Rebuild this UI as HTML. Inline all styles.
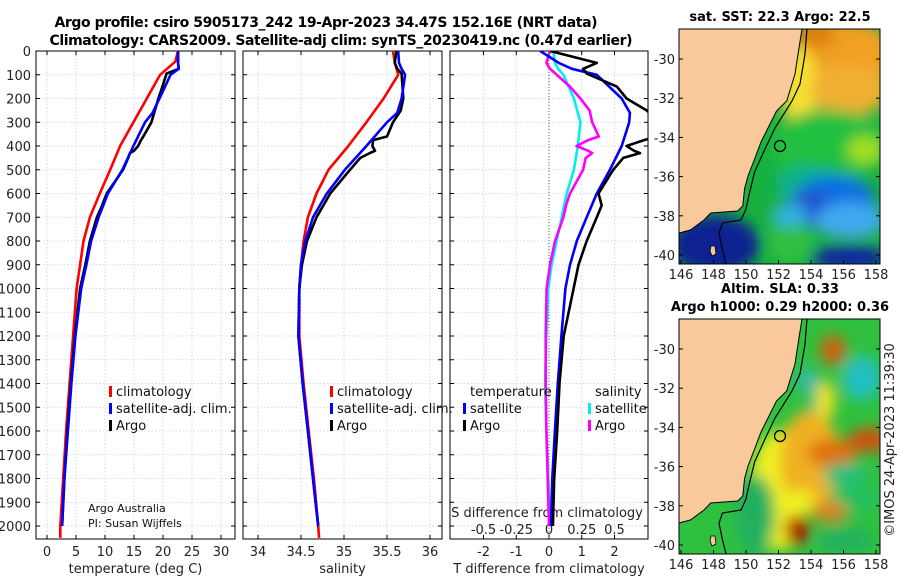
<!DOCTYPE html>
<html><head><meta charset="utf-8"><style>
html,body{margin:0;padding:0;background:#fff;}
svg{display:block;font-family:"DejaVu Sans","Liberation Sans",sans-serif;}
</style></head><body>
<svg id="fig" width="900" height="580" viewBox="0 0 900 580">
<defs>
<clipPath id="c1"><rect x="36" y="51" width="199" height="488"/></clipPath>
<clipPath id="c2"><rect x="243" y="51" width="199" height="488"/></clipPath>
<clipPath id="c3"><rect x="450" y="51" width="198" height="488"/></clipPath>
<clipPath id="m1"><rect x="679" y="29" width="201" height="235"/></clipPath>
<clipPath id="m2"><rect x="679" y="319" width="201" height="235"/></clipPath>
<filter id="bl" x="-50%" y="-50%" width="200%" height="200%"><feGaussianBlur stdDeviation="7"/></filter>
</defs>
<text x="326" y="27" text-anchor="middle" font-weight="bold" font-size="14" textLength="543">Argo profile: csiro 5905173_242 19-Apr-2023 34.47S 152.16E (NRT data)</text>
<text x="341" y="45" text-anchor="middle" font-weight="bold" font-size="14" textLength="583">Climatology: CARS2009. Satellite-adj clim: synTS_20230419.nc (0.47d earlier)</text>
<g id="plots"></g>
<g id="maps"></g>
</svg>
<script>
// ---------- data ----------
const depthTicks = [0,100,200,300,400,500,600,700,800,900,1000,1100,1200,1300,1400,1500,1600,1700,1800,1900,2000];
const tempTicks = [0,5,10,15,20,25,30];
const salTicks = [34,34.5,35,35.5,36];
const salTickLabels = ["34","34.5","35","35.5","36"];
const tdiffTicks = [-2,-1,0,1,2];
const sdiffTicks = [-0.5,-0.25,0,0.25,0.5];
const sdiffTickLabels = ["-0.5","-0.25","0","0.25","0.5"];

const argoDepth = [0,50,75,95,150,200,250,300,360,375,400,420,430,450,500,600,650,700,800,900,1000,1200,1400,1600,1800,2000];
const argoTemp  = [22.6,22.6,22.7,20.6,19.9,19.2,18.6,18.0,16.6,16.2,15.7,15.0,14.3,14.0,13.1,10.3,9.5,8.6,7.4,6.6,5.7,4.8,4.1,3.5,3.0,2.6];
const argoSal   = [35.61,35.59,35.62,35.67,35.68,35.69,35.66,35.57,35.50,35.34,35.33,35.36,35.30,35.19,35.07,34.84,34.76,34.68,34.57,34.51,34.48,34.47,34.52,34.58,34.64,34.70];
const argoTdiff = [0.03,1.46,1.04,1.15,2.07,2.37,2.98,3.4,3.3,2.9,2.37,2.6,2.78,2.27,1.96,1.51,1.61,1.46,1.15,0.9,0.75,0.45,0.32,0.25,0.16,0.12];
const argoSdiff = [0.008,-0.02,0.008,0.05,0.16,0.24,0.31,0.33,0.38,0.30,0.21,0.30,0.33,0.28,0.26,0.16,0.13,0.11,0.046,0.008,-0.018,-0.025,-0.025,-0.02,-0.01,0.0];

const satDepth = [0,50,75,100,200,260,300,400,500,600,700,800,900,1000,1200,1400,1600,1800,2000];
const satTemp  = [22.6,22.6,22.7,21.3,19.4,18.2,16.9,14.9,13.0,10.5,8.9,7.6,6.8,5.9,4.9,4.2,3.6,3.0,2.6];
const satSal   = [35.63,35.64,35.67,35.71,35.67,35.62,35.50,35.26,35.01,34.80,34.64,34.55,34.50,34.48,34.47,34.52,34.58,34.64,34.70];
const satTdiff = [-0.27,0.3,0.7,1.46,2.22,2.47,2.45,2.22,1.86,1.46,1.15,0.85,0.64,0.5,0.38,0.27,0.18,0.1,0.06];
const satSdiff = [0.033,0.046,0.07,0.11,0.19,0.22,0.24,0.22,0.19,0.135,0.097,0.059,0.02,-0.005,-0.02,-0.03,-0.02,-0.005,0.01];

const climDepth = [0,45,100,200,300,400,500,600,700,800,900,1000,1200,1400,1600,1800,2000,2050];
const climTemp  = [22.6,22.1,19.5,17.2,14.9,12.6,10.9,9.1,7.4,6.3,5.7,5.1,4.5,3.9,3.3,2.8,2.3,2.3];
const climSal   = [35.57,35.59,35.63,35.46,35.26,35.05,34.82,34.68,34.58,34.53,34.50,34.48,34.48,34.53,34.59,34.65,34.70,34.71];

// ---------- helpers ----------
const NS = "http://www.w3.org/2000/svg";
const plots = document.getElementById('plots');
function mk(tag, attrs, parent){ const e=document.createElementNS(NS,tag); for(const k in attrs) e.setAttribute(k,attrs[k]); (parent||plots).appendChild(e); return e; }
const Y0=51, YS=0.2375;
function yD(d){ return Y0 + d*YS; }
function xT(t){ return 47 + t*5.8; }
function xS(s){ return 258 + (s-34)*86; }
function xTd(v){ return 549 + v*32.75; }
function xSd(v){ return 549 + v*131; }

const panels = [
  {x:36, name:'temperature-panel', ticks:tempTicks, labels:tempTicks.map(String), fx:xT, clip:'c1', label:'temperature (deg C)'},
  {x:243, name:'salinity-panel', ticks:salTicks, labels:salTickLabels, fx:xS, clip:'c2', label:'salinity'},
  {x:450, name:'difference-panel', ticks:tdiffTicks, labels:tdiffTicks.map(String), fx:xTd, clip:'c3', label:'T difference from climatology'}
];
const PT=51, PB=539;
panels.forEach((p,i)=>{
  const g = mk('g',{});
  
  
  const w = (i==2)?198:199;
  p.ticks.forEach(t=>{ const gl=mk('line',{x1:p.fx(t),x2:p.fx(t),y1:PT,y2:PB,stroke:'#c9cdea','stroke-width':0.8,'stroke-dasharray':'1.5,2'},g);
      });
  depthTicks.forEach(d=>{ const gl=mk('line',{x1:p.x,x2:p.x+w,y1:yD(d),y2:yD(d),stroke:'#c9cdea','stroke-width':0.8,'stroke-dasharray':'1.5,2'},g);
      });
  p.ticks.forEach((t,k)=>{
    mk('line',{x1:p.fx(t),x2:p.fx(t),y1:PT,y2:PT+4,stroke:'#000'},g);
    mk('line',{x1:p.fx(t),x2:p.fx(t),y1:PB,y2:PB-4,stroke:'#000'},g);
    const tx=mk('text',{x:p.fx(t),y:556,'text-anchor':'middle','font-size':13,fill:'#222'},g);
    tx.textContent=p.labels[k];
     
  });
  depthTicks.forEach(d=>{
    mk('line',{x1:p.x,x2:p.x+4,y1:yD(d),y2:yD(d),stroke:'#000'},g);
    mk('line',{x1:p.x+w,x2:p.x+w-4,y1:yD(d),y2:yD(d),stroke:'#000'},g);
  });
  const xl=mk('text',{x:p.x+w/2,y:573,'text-anchor':'middle','font-size':13,fill:'#222'},g);
  xl.textContent=p.label;
   
  const fr=mk('rect',{x:p.x,y:PT,width:w,height:PB-PT,fill:'none',stroke:'#000','stroke-width':1},g);
   
});
depthTicks.forEach(d=>{
  const t=mk('text',{x:31,y:yD(d)+5,'text-anchor':'end','font-size':13,fill:'#222'});
  t.textContent=String(d);
   
});
sdiffTicks.forEach((s,k)=>{
  const t=mk('text',{x:xSd(s),y:534,'text-anchor':'middle','font-size':13,fill:'#222'});
  t.textContent=sdiffTickLabels[k];
   
});
const sdt=mk('text',{x:547,y:517,'text-anchor':'middle','font-size':13,fill:'#222'});
sdt.textContent='S difference from climatology';
 
const zl=mk('line',{x1:xTd(0),x2:xTd(0),y1:PT,y2:PB,stroke:'#556b2f','stroke-width':1,'stroke-dasharray':'1,2'});
 

function line(depths, vals, fx, color, clip, name){
  const pts = depths.map((d,k)=>fx(vals[k]).toFixed(1)+','+yD(d).toFixed(1)).join(' ');
  const pl = mk('polyline',{points:pts,fill:'none',stroke:color,'stroke-width':2.6,'stroke-linejoin':'round','clip-path':'url(#'+clip+')'});
  
  
}
line(climDepth, climTemp, xT, '#ff0000','c1','climatology-temperature-line');
line(argoDepth, argoTemp, xT, '#000000','c1','argo-temperature-line');
line(satDepth, satTemp, xT, '#0000ff','c1','satellite-temperature-line');
line(climDepth, climSal, xS, '#ff0000','c2','climatology-salinity-line');
line(argoDepth, argoSal, xS, '#000000','c2','argo-salinity-line');
line(satDepth, satSal, xS, '#0000ff','c2','satellite-salinity-line');
line(satDepth, satSdiff, xSd, '#00eeee','c3','satellite-s-diff-line');
line(argoDepth, argoSdiff, xSd, '#ff00ff','c3','argo-s-diff-line');
line(satDepth, satTdiff, xTd, '#0000ff','c3','satellite-t-diff-line');
line(argoDepth, argoTdiff, xTd, '#000000','c3','argo-t-diff-line');

function legend(x, y, color, text, name){
  const g=mk('g',{});
  
  
  mk('rect',{x:x,y:y-10,width:3,height:11,fill:color},g);
  const t=mk('text',{x:x+7,y:y,'font-size':13,fill:'#111'},g); t.textContent=text;
}
legend(109,396,'#ff0000','climatology','legend-climatology');
legend(109,413,'#0000ff','satellite-adj. clim.','legend-satellite-adj');
legend(109,430,'#000000','Argo','legend-argo');
legend(330,396,'#ff0000','climatology','legend-climatology-sal');
legend(330,413,'#0000ff','satellite-adj. clim.','legend-satellite-adj-sal');
legend(330,430,'#000000','Argo','legend-argo-sal');
legend(463,413,'#0000ff','satellite','legend-t-satellite');
legend(463,430,'#000000','Argo','legend-t-argo');
legend(588,413,'#00eeee','satellite','legend-s-satellite');
legend(588,430,'#ff00ff','Argo','legend-s-argo');
let t1=mk('text',{x:470,y:396,'font-size':13,fill:'#111'}); t1.textContent='temperature';
 
let t2=mk('text',{x:595,y:396,'font-size':13,fill:'#111'}); t2.textContent='salinity';
 
let a1=mk('text',{x:88,y:512,'font-size':11,fill:'#111'}); a1.textContent='Argo Australia';
 
let a2=mk('text',{x:88,y:527,'font-size':11,fill:'#111'}); a2.textContent='PI: Susan Wijffels';
 

// ---------- maps ----------
const maps = document.getElementById('maps');
const coast = [[802,29],[798.5,51],[795,74],[786.7,101],[776.5,111],[768,128],[761,142],[754.6,159],[748,176],[744.5,189],[742.8,206],[737.7,211],[710.7,213],[704,220],[690.4,230],[679,233]];
const isobath = [[807,29],[805,54],[800,84],[792,101],[775,128],[765,149],[754.6,172],[749.5,193],[746,209],[741,220],[722.5,223],[719,233],[722.5,250],[726,264]];
const lonTicks = [146,148,150,152,154,156,158];
const latTicks = [-30,-32,-34,-36,-38,-40];
const sstBlobs = [
  ['#f0a020',845,55,50,35],['#e08010',815,35,20,15],['#f5e030',800,90,18,45],['#f0b030',850,90,40,25],
  ['#22c040',830,145,60,35],['#a0e020',865,150,18,14],['#10b090',810,185,35,20],['#1070e0',835,200,40,25],
  ['#2050d0',810,210,25,18],['#40a8f0',850,220,35,18],['#0a20a0',850,258,40,12],['#0a2090',715,245,45,30],
  ['#30c040',790,240,22,25],['#30b0e0',790,215,18,12]
];
const slaBlobs = [
  ['#f0f020',780,200,30,60],['#f0b020',810,170,30,50],['#e07010',832,163,25,14],['#d05010',870,150,22,12],
  ['#d06010',833,60,13,15],['#20c0c0',862,88,20,22],['#30b8b0',807,90,10,12],['#30b0b0',817,110,7,12],
  ['#20c080',845,185,22,12],['#20c060',855,210,28,12],['#30c0b0',760,230,12,22],['#20b060',755,225,20,40],
  ['#b00000',797,240,12,15],['#e08020',830,222,18,10],['#f0f020',800,210,15,10],['#20b060',845,250,28,12],
  ['#f0e020',825,110,10,20]
];
function drawMap(dy, clip, bg, blobs, title, name){
  const g=mk('g',{},maps);
  
  
  const cg=mk('g',{'clip-path':'url(#'+clip+')'},g);
  mk('rect',{x:679,y:29+dy,width:201,height:235,fill:bg},cg);
  const bg2=mk('g',{filter:'url(#bl)'},cg);
  blobs.forEach(b=>mk('ellipse',{cx:b[1],cy:b[2]+dy,rx:b[3],ry:b[4],fill:b[0]},bg2));
  const landPts=[[679,29]].concat(coast).map(p=>p[0]+','+(p[1]+dy)).join(' ');
  const land=mk('polygon',{points:landPts,fill:'#f9c89b',stroke:'#000','stroke-width':1},cg);
  
  
  mk('polygon',{points:[[711,246],[715,246],[716,254],[712,256],[710,251]].map(p=>p[0]+','+(p[1]+dy)).join(' '),fill:'#f9c89b',stroke:'#000','stroke-width':0.8},cg);
  const iso=mk('polyline',{points:isobath.map(p=>p[0]+','+(p[1]+dy)).join(' '),fill:'none',stroke:'#000','stroke-width':1.2},cg);
  
  
  const mkr=mk('circle',{cx:780,cy:146+dy,r:5.5,fill:'none',stroke:'#000','stroke-width':1.3},g);
  
  
  mk('rect',{x:679,y:29+dy,width:201,height:235,fill:'none',stroke:'#000','stroke-width':1},g);
  lonTicks.forEach(l=>{ const x=681+(l-146)*16.25;
    mk('line',{x1:x,x2:x,y1:264+dy,y2:260+dy,stroke:'#000'},g);
    const t=mk('text',{x:x,y:279+dy,'text-anchor':'middle','font-size':13,fill:'#222'},g); t.textContent=String(l);
      });
  latTicks.forEach(l=>{ const y=59+(-30-l)*19.6+dy;
    mk('line',{x1:679,x2:683,y1:y,y2:y,stroke:'#000'},g);
    mk('line',{x1:880,x2:876,y1:y,y2:y,stroke:'#000'},g);
    const t=mk('text',{x:675,y:y+5,'text-anchor':'end','font-size':13,fill:'#222'},g); t.textContent=String(l);
      });
  title.forEach((tt,k)=>{ const t=mk('text',{x:780,y:tt[1],'text-anchor':'middle','font-size':13,'font-weight':'bold',fill:'#000'},g); t.textContent=tt[0];
      });
}
drawMap(0,'m1','#18b040',sstBlobs,[['sat. SST: 22.3 Argo: 22.5',21]],'sst-map');
drawMap(290,'m2','#30c040',slaBlobs,[['Altim. SLA: 0.33',293],['Argo h1000: 0.29 h2000: 0.36',311]],'sla-map');
const cp=mk('text',{x:894,y:440,'text-anchor':'middle','font-size':13,fill:'#222',transform:'rotate(-90 894 440)'},maps);
cp.textContent='©IMOS 24-Apr-2023 11:39:30';


</script>
</body></html>
